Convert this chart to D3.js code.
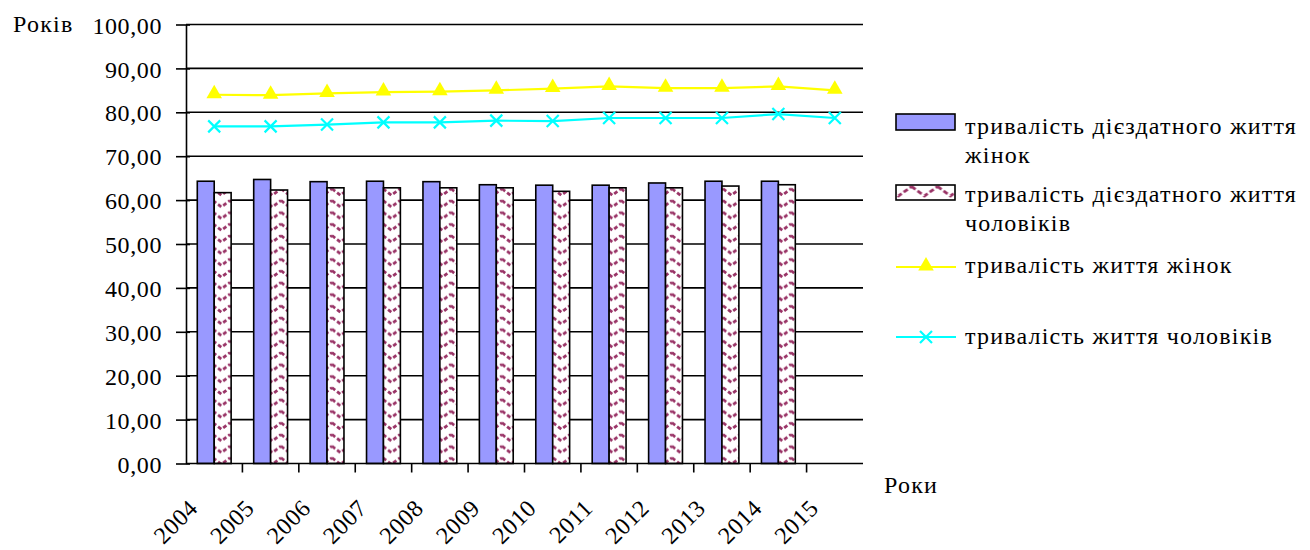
<!DOCTYPE html>
<html>
<head>
<meta charset="utf-8">
<script src="https://cdn.jsdelivr.net/npm/d3@7"></script>
<style>
  html, body { margin: 0; padding: 0; background: #fff; }
  svg { display: block; }
</style>
</head>
<body>
<svg id="chart" width="1310" height="550"></svg>
<script>
// Years on the category axis
const years = ["2004", "2005", "2006", "2007", "2008", "2009", "2010", "2011", "2012", "2013", "2014", "2015"];
// Working-life duration, women (bars)
const womenWorkLife = [64.3, 64.7, 64.2, 64.3, 64.2, 63.5, 63.4, 63.4, 63.9, 64.3, 64.3, null];
// Working-life duration, men (patterned bars)
const menWorkLife = [61.7, 62.3, 62.8, 62.8, 62.8, 62.8, 62.0, 62.8, 62.8, 63.2, 63.5, null];
// Life expectancy, women (line)
const womenLife = [84.0, 83.9, 84.3, 84.6, 84.7, 85.0, 85.4, 85.9, 85.5, 85.5, 85.9, 85.0];
// Life expectancy, men (line)
const menLife = [76.8, 76.8, 77.2, 77.7, 77.7, 78.1, 78.0, 78.7, 78.7, 78.7, 79.6, 78.7];
// Value-axis ticks
const yTicks = [0, 10, 20, 30, 40, 50, 60, 70, 80, 90, 100];

const seriesNames = [
  ["тривалість дієздатного життя", "жінок"],
  ["тривалість дієздатного життя", "чоловіків"],
  ["тривалість життя жінок"],
  ["тривалість життя чоловіків"]
];

const FONT = 24;
const FAMILY = "'Liberation Serif', 'Times New Roman', 'DejaVu Serif', serif";
const svg = d3.select("#chart");

function styleText(sel, spacing = 1.2) {
  return sel.style("font-family", FAMILY)
    .style("font-size", FONT + "px")
    .style("letter-spacing", spacing + "px")
    .style("fill", "#000");
}

const plot = { left: 186, right: 863, top: 24.5, bottom: 463.5 };

const x = d3.scaleBand().domain(years).range([plot.left, plot.right]);
const y = d3.scaleLinear().domain([0, 100]).range([plot.bottom, plot.top]);
const barW = x.bandwidth() * 0.3;

const locale = d3.formatLocale({ decimal: ",", thousands: " ", grouping: [3], currency: ["", ""] });
const fmt = locale.format(".2f");

// Zigzag fill patterns for the men's bars and their legend key
const defs = svg.append("defs");
function zigzag(id, w, h, top, bottom, ox, dash) {
  const p = defs.append("pattern")
    .attr("id", id)
    .attr("patternUnits", "userSpaceOnUse")
    .attr("x", ox).attr("y", 0)
    .attr("width", w).attr("height", h);
  p.append("rect").attr("width", w).attr("height", h).attr("fill", "#fff");
  p.append("path")
    .attr("d", `M0,${top} L${w / 2},${bottom} L${w},${top}`)
    .attr("fill", "none")
    .attr("stroke", "#993366")
    .attr("stroke-width", 2.8)
    .attr("stroke-dasharray", dash);
}
zigzag("zz", 17, 11.7, 1.5, 8, 9, "4 2.4");
zigzag("zzLegend", 26, 20, 6.5, 16, 911.5 - 26 * 35, "5 2.5");

// Gridlines
svg.append("g")
  .selectAll("line")
  .data(yTicks.filter(d => d > 0))
  .join("line")
  .attr("x1", plot.left).attr("x2", plot.right)
  .attr("y1", d => y(d)).attr("y2", d => y(d))
  .attr("stroke", "#000").attr("stroke-width", 1.6);

// Bars
const bars = svg.append("g");
years.forEach((yr, i) => {
  const cx = x(yr) + x.bandwidth() / 2;
  if (womenWorkLife[i] != null) {
    bars.append("rect")
      .attr("x", cx - barW).attr("y", y(womenWorkLife[i]))
      .attr("width", barW).attr("height", y(0) - y(womenWorkLife[i]))
      .attr("fill", "#9999FF").attr("stroke", "#000").attr("stroke-width", 1.6);
  }
  if (menWorkLife[i] != null) {
    bars.append("rect")
      .attr("x", cx).attr("y", y(menWorkLife[i]))
      .attr("width", barW).attr("height", y(0) - y(menWorkLife[i]))
      .attr("fill", "url(#zz)").attr("stroke", "#000").attr("stroke-width", 1.6);
  }
});

// Category axis line and boundary ticks
const xAxis = svg.append("g");
xAxis.append("line")
  .attr("x1", plot.left).attr("x2", plot.right)
  .attr("y1", y(0)).attr("y2", y(0))
  .attr("stroke", "#000").attr("stroke-width", 1.6);
xAxis.selectAll("line.tick")
  .data(years.slice(1))
  .join("line")
  .attr("class", "tick")
  .attr("x1", d => x(d)).attr("x2", d => x(d))
  .attr("y1", y(0)).attr("y2", y(0) + 9)
  .attr("stroke", "#000").attr("stroke-width", 1.6);
xAxis.selectAll("text")
  .data(years)
  .join("text")
  .attr("transform", d => `translate(${x(d) + x.bandwidth() / 2 - 15},${y(0) + 46}) rotate(-45)`)
  .attr("text-anchor", "end")
  .call(styleText, 0.6)
  .text(d => d);

// Value axis
const yAxis = svg.append("g")
  .attr("transform", `translate(${plot.left},0)`)
  .call(d3.axisLeft(y).tickValues(yTicks).tickFormat(fmt).tickSizeInner(10).tickSizeOuter(0).tickPadding(14));
yAxis.attr("font-family", null).attr("font-size", null);
yAxis.select(".domain").attr("stroke", "#000").attr("stroke-width", 1.6);
yAxis.selectAll(".tick line").attr("x2", 4).attr("x1", -10).attr("stroke-width", 1.6);
yAxis.selectAll(".tick text")
  .call(styleText, 0.6)
  .attr("dy", "0.36em");

// Lines
const line = d3.line()
  .x((d, i) => x(years[i]) + x.bandwidth() / 2)
  .y(d => y(d));

svg.append("path").datum(womenLife)
  .attr("d", line).attr("fill", "none")
  .attr("stroke", "#FFFF00").attr("stroke-width", 2.2);
svg.append("path").datum(menLife)
  .attr("d", line).attr("fill", "none")
  .attr("stroke", "#00FFFF").attr("stroke-width", 2.2);

const tri = d3.symbol().type(d3.symbolTriangle).size(105);
svg.append("g").selectAll("path")
  .data(womenLife)
  .join("path")
  .attr("transform", (d, i) => `translate(${x(years[i]) + x.bandwidth() / 2},${y(d) - 1})`)
  .attr("d", tri)
  .attr("fill", "#FFFF00");

const cross = "M-6,-6L6,6M-6,6L6,-6";
svg.append("g").selectAll("path")
  .data(menLife)
  .join("path")
  .attr("transform", (d, i) => `translate(${x(years[i]) + x.bandwidth() / 2},${y(d)})`)
  .attr("d", cross)
  .attr("fill", "none")
  .attr("stroke", "#00FFFF").attr("stroke-width", 2.2);

// Axis titles
svg.append("text").attr("x", 13).attr("y", 32).call(styleText).text("Років");
svg.append("text").attr("x", 884).attr("y", 493).call(styleText).text("Роки");

// Legend
const lg = svg.append("g");
const lgX0 = 896, lgX1 = 956, lgText = 965;
lg.append("rect").attr("x", lgX0).attr("y", 114).attr("width", lgX1 - lgX0 - 1).attr("height", 16)
  .attr("fill", "#9999FF").attr("stroke", "#000").attr("stroke-width", 1.6);
lg.append("rect").attr("x", lgX0).attr("y", 185).attr("width", lgX1 - lgX0 - 1).attr("height", 15)
  .attr("fill", "url(#zzLegend)").attr("stroke", "#000").attr("stroke-width", 1.6);
lg.append("line").attr("x1", lgX0).attr("x2", lgX1).attr("y1", 267).attr("y2", 267)
  .attr("stroke", "#FFFF00").attr("stroke-width", 2.2);
lg.append("path").attr("transform", "translate(926,266)").attr("d", tri).attr("fill", "#FFFF00");
lg.append("line").attr("x1", lgX0).attr("x2", lgX1).attr("y1", 337).attr("y2", 337)
  .attr("stroke", "#00FFFF").attr("stroke-width", 2.2);
lg.append("path").attr("transform", "translate(926,337)").attr("d", cross)
  .attr("fill", "none").attr("stroke", "#00FFFF").attr("stroke-width", 2.2);

const baselines = [[134, 163], [202, 231], [273], [344]];
seriesNames.forEach((lines, k) => {
  lines.forEach((t, j) => {
    lg.append("text").attr("x", lgText).attr("y", baselines[k][j]).call(styleText).text(t);
  });
});
</script>
</body>
</html>
